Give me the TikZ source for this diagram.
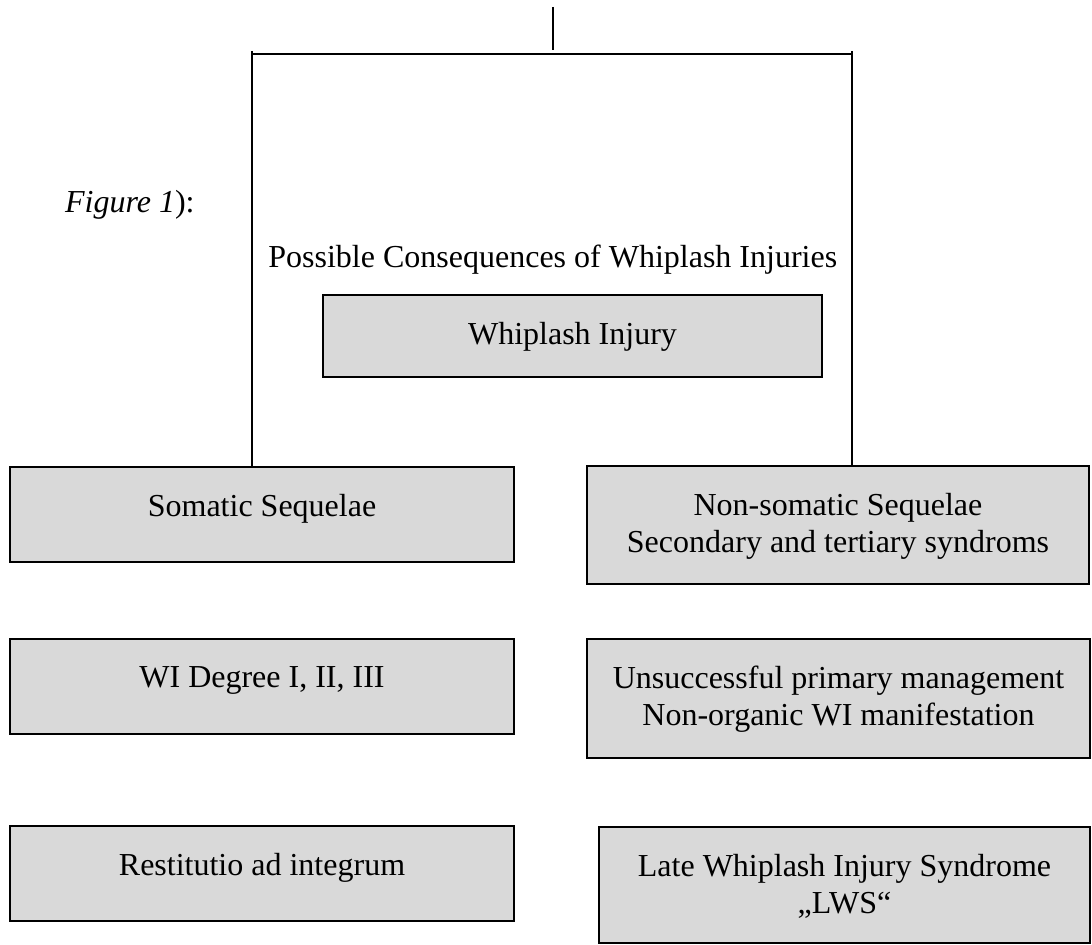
\documentclass[tikz,border=0pt]{standalone}
\usepackage{fontspec}
\setmainfont{Liberation Serif}
\usetikzlibrary{positioning}
\definecolor{ink}{HTML}{000000}
\definecolor{boxgray}{HTML}{D9D9D9}
\newcommand{\figfontsize}{\fontsize{16}{18.5}\selectfont}
\tikzset{
  every picture/.style = {font=\figfontsize, line join=miter},
  wire/.style          = {line width=1pt, draw=ink},
  box/.style           = {rectangle, draw=ink, line width=1.2pt, fill=boxgray, inner sep=0pt},
  boxtext/.style       = {align=center, inner sep=0pt, text=ink},
}
\begin{document}
\begin{tikzpicture}[x=0.5pt, y=-0.5pt]   % one unit = one pixel of the 1092x945 page, y downwards
  \useasboundingbox (0,0) rectangle (1092,945);

  % ---------- boxes ----------------------------------------------------------
  \node[box, minimum width=249.5pt, minimum height=41pt]   (whip)   at (572.5,336) {};
  \node[box, minimum width=252pt,   minimum height=47.5pt] (som)    at (262,514.5) {};
  \node[box, minimum width=251pt,   minimum height=59pt]   (nonsom) at (838,525)   {};
  \node[box, minimum width=252pt,   minimum height=47.5pt] (degree) at (262,686.5) {};
  \node[box, minimum width=251.5pt, minimum height=59.5pt] (manage) at (838.5,698.5) {};
  \node[box, minimum width=252pt,   minimum height=47.5pt] (restit) at (262,873.5) {};
  \node[box, minimum width=245.5pt, minimum height=58pt]   (lws)    at (844.5,885) {};

  % text sits near the top of each box, not in its middle
  \node[boxtext, below=14pt of whip.north]   (whipT)   {Whiplash Injury};
  \node[boxtext, below=14pt of som.north]    (somT)    {Somatic Sequelae};
  \node[boxtext, below=14pt of nonsom.north] (nonsomT) {Non-somatic Sequelae\\Secondary and tertiary syndroms};
  \node[boxtext, below=14pt of degree.north] (degreeT) {WI Degree I, II, III};
  \node[boxtext, below=14pt of manage.north] (manageT) {Unsuccessful primary management\\Non-organic WI manifestation};
  \node[boxtext, below=14pt of restit.north] (restitT) {Restitutio ad integrum};
  \node[boxtext, below=14pt of lws.north]    (lwsT)    {Late Whiplash Injury Syndrome\\„LWS“};

  % ---------- loose texts ----------------------------------------------------
  \node[anchor=base east, inner sep=0pt] (figref)  at (195,213) {\textit{Figure 1}):};
  \node[anchor=base west, inner sep=0pt] (caption) at (268,268) {Possible Consequences of Whiplash Injuries};

  % ---------- the bracket on top ---------------------------------------------
  \coordinate (stem) at (553,7);
  \coordinate (fork) at (553,50);
  \coordinate (barL) at (252,54);
  \coordinate (barR) at (852,54);

  \draw[wire] (stem) -- (fork);
  \draw[wire] (barL) -- (barR);
  \draw[wire] (barL) ++(0,-3) -- (barL |- som.north);
  \draw[wire] (barR) ++(0,-3) -- (barR |- nonsom.north);
\end{tikzpicture}
\end{document}
